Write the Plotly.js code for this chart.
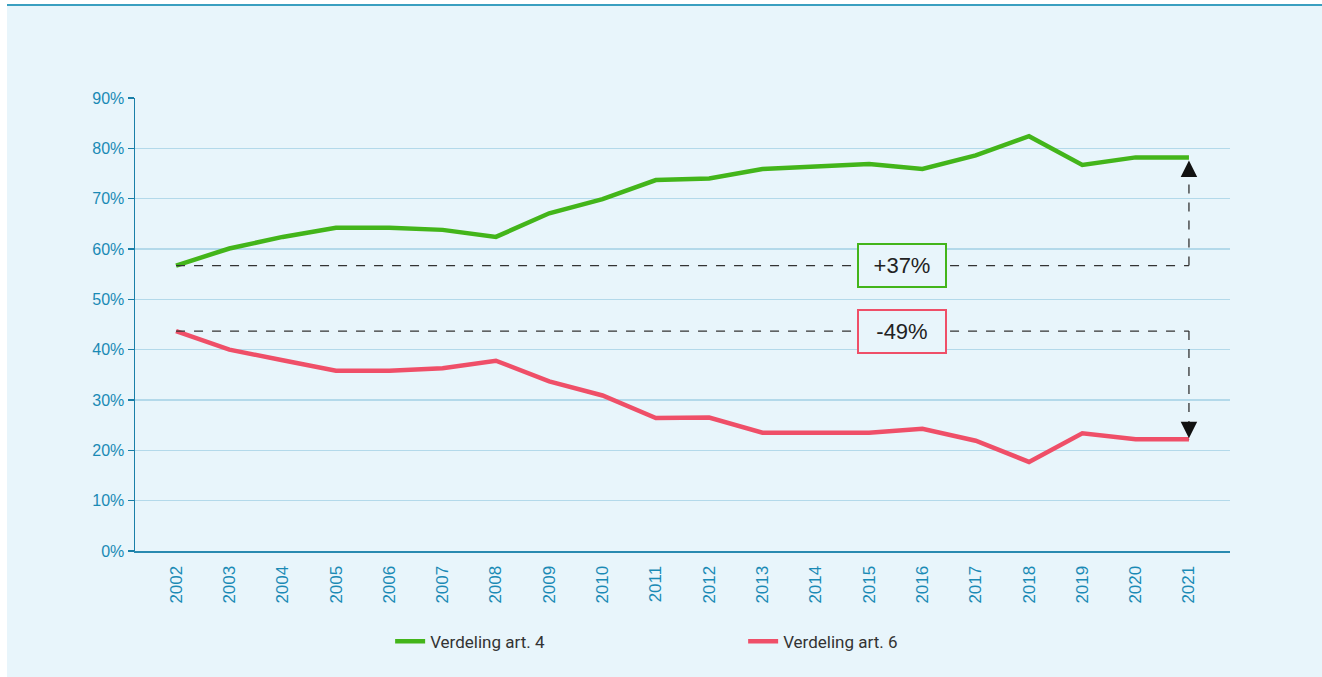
<!DOCTYPE html>
<html>
<head>
<meta charset="utf-8">
<script src="https://cdn.plot.ly/plotly-3.0.1.min.js"></script>
<style>
  html, body { margin: 0; padding: 0; background: #ffffff; }
  #topline { position: absolute; left: 7px; top: 4px; width: 1315px; height: 2px; background: #3a9fc0; }
  #chart { position: absolute; left: 7px; top: 6px; width: 1315px; height: 671px; }
</style>
</head>
<body>
<div id="topline"></div>
<div id="chart"></div>
<script>
const years = [2002,2003,2004,2005,2006,2007,2008,2009,2010,2011,2012,2013,2014,2015,2016,2017,2018,2019,2020,2021];
const art4 = [56.7,60.1,62.4,64.2,64.2,63.8,62.4,67.1,69.9,73.7,74.0,75.9,76.4,76.9,75.9,78.6,82.4,76.7,78.2,78.2];
const art6 = [43.7,40.0,37.9,35.8,35.8,36.3,37.8,33.7,30.9,26.4,26.5,23.5,23.5,23.5,24.3,21.9,17.7,23.4,22.2,22.2];
const seriesNames = ['Verdeling art. 4', 'Verdeling art. 6'];
const changeLabels = ['+37%', '-49%'];
const yTicks = [0,10,20,30,40,50,60,70,80,90];
const yTickText = ['0%','10%','20%','30%','40%','50%','60%','70%','80%','90%'];
const labelYear = 2015.62;

const green = '#43b51a';
const red = '#ef4f68';
const bg = '#e8f5fb';
const n = years.length;
const x0 = years[0], x1 = years[n-1];
const sans = 'Liberation Sans, Arial, sans-serif';

const traces = [
  {x: years, y: art4, type: 'scatter', mode: 'lines', name: seriesNames[0],
   line: {color: green, width: 4.5}},
  {x: years, y: art6, type: 'scatter', mode: 'lines', name: seriesNames[1],
   line: {color: red, width: 4.5}}
];

const dashLine = {color: '#333333', width: 1.3, dash: 'dash'};
const shapes = [
  {type: 'line', xref: 'x', yref: 'y', x0: x0, x1: x1, y0: art4[0], y1: art4[0], line: dashLine},
  {type: 'line', xref: 'x', yref: 'y', x0: x1, x1: x1, y0: art4[0], y1: art4[n-1], line: dashLine},
  {type: 'line', xref: 'x', yref: 'y', x0: x0, x1: x1, y0: art6[0], y1: art6[0], line: dashLine},
  {type: 'line', xref: 'x', yref: 'y', x0: x1, x1: x1, y0: art6[0], y1: art6[n-1], line: dashLine}
];

const annotations = [
  {x: x1, y: art4[n-1], xref: 'x', yref: 'y', text: '', showarrow: true, ax: 0, ay: 18,
   arrowhead: 2, arrowsize: 2.2, arrowwidth: 1.5, arrowcolor: '#111111', standoff: 3},
  {x: x1, y: art6[n-1], xref: 'x', yref: 'y', text: '', showarrow: true, ax: 0, ay: -18,
   arrowhead: 2, arrowsize: 2.2, arrowwidth: 1.5, arrowcolor: '#111111', standoff: 1},
  {x: labelYear, y: art4[0], xref: 'x', yref: 'y', text: changeLabels[0], showarrow: false,
   font: {family: sans, size: 22, color: '#222222'},
   bgcolor: bg, bordercolor: green, borderwidth: 2, borderpad: 2, width: 82, height: 37},
  {x: labelYear, y: art6[0], xref: 'x', yref: 'y', text: changeLabels[1], showarrow: false,
   font: {family: sans, size: 22, color: '#222222'},
   bgcolor: bg, bordercolor: red, borderwidth: 2, borderpad: 2, width: 82, height: 37}
];

const layout = {
  width: 1315, height: 671,
  paper_bgcolor: bg, plot_bgcolor: bg,
  margin: {l: 128, r: 92, t: 92, b: 126},
  font: {family: sans, color: '#1a8ab5'},
  showlegend: true,
  legend: {orientation: 'h', x: 0.233, y: -0.2, xanchor: 'left', yanchor: 'middle',
           font: {family: 'Roboto, sans-serif', size: 17, color: '#333333'},
           entrywidth: 308, entrywidthmode: 'pixels', bgcolor: 'rgba(0,0,0,0)',
           itemwidth: 30},
  xaxis: {range: [2001.23, 2021.77], tickmode: 'array', tickvals: years,
          ticktext: years.map(String), tickangle: -90,
          tickfont: {family: sans, size: 17, color: '#1a8ab5'},
          showgrid: false, zeroline: false, showline: true, linecolor: '#2a8ab0', linewidth: 2,
          ticks: '', ticklabelstandoff: 6, fixedrange: true},
  yaxis: {range: [0, 90], tickmode: 'array', tickvals: yTicks, ticktext: yTickText,
          tickfont: {family: sans, size: 16, color: '#1a8ab5'},
          showgrid: true, gridcolor: '#b3d9ea', gridwidth: 1.5,
          zeroline: false, showline: true, linecolor: '#1a7fa8', linewidth: 1.5,
          ticks: 'outside', ticklen: 6, tickcolor: '#1a7fa8', tickwidth: 1.5, fixedrange: true},
  shapes: shapes,
  annotations: annotations
};

Plotly.newPlot('chart', traces, layout, {displayModeBar: false, staticPlot: true});
</script>
</body>
</html>
